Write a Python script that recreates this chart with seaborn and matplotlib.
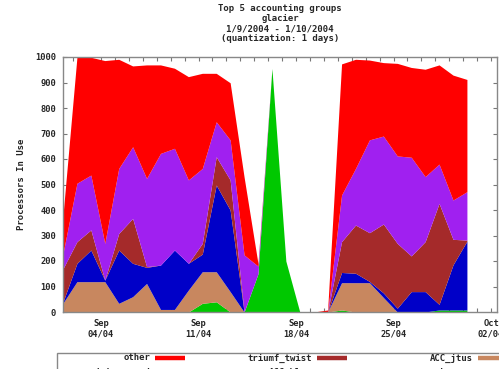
import numpy as np
import pandas as pd
import matplotlib
matplotlib.use("Agg")
import matplotlib.pyplot as plt
import matplotlib.dates as mdates
from matplotlib.lines import Line2D
from matplotlib.patches import Rectangle
import seaborn as sns

# Daily samples, 1/9/2004 - 1/10/2004
days = pd.date_range("2004-09-01 06:30", periods=30, freq="D")

# Processors in use per accounting group (one value per day)
ubc_cwn = [0, 0, 0, 0, 0, 0, 0, 0, 0, 0, 34, 40, 0, 0, 150,
           955, 200, 0, 0, 0, 8, 0, 0, 0, 0, 0, 0, 8, 8, 8]
acc_jtus = [35, 119, 119, 119, 34, 60, 112, 10, 10, 86, 124, 118, 80, 0, 0,
            0, 0, 0, 0, 0, 107, 115, 115, 57, 0, 0, 0, 0, 0, 0]
acc_hluo = [5, 72, 124, 6, 209, 131, 63, 174, 233, 105, 69, 340, 320, 0, 0,
            0, 0, 0, 0, 0, 40, 37, 5, 18, 15, 80, 80, 22, 177, 270]
triumf_twist = [130, 85, 79, 0, 65, 176, 3, 0, 0, 0, 42, 111, 118, 0, 0,
                0, 0, 0, 0, 0, 121, 189, 191, 270, 254, 140, 196, 396, 100, 4]
babar_prod = [60, 229, 215, 144, 255, 281, 346, 438, 399, 327, 294, 137, 157, 224, 30,
              0, 0, 0, 0, 0, 183, 222, 364, 345, 343, 387, 255, 154, 154, 190]
other = [150, 494, 462, 717, 428, 317, 445, 347, 314, 405, 373, 190, 224, 306, 10,
         0, 0, 0, 0, 8, 514, 428, 313, 288, 363, 352, 421, 389, 490, 440]

# stacking order, bottom to top
stack_names = ["ubc_cwn", "ACC_jtus", "ACC_hluo", "triumf_twist", "babar_prod", "other"]
stack_values = [ubc_cwn, acc_jtus, acc_hluo, triumf_twist, babar_prod, other]
stack_colors = ["#00c800", "#c8875f", "#0000c8", "#a52a2a", "#a020f0", "#ff0000"]

# legend order (row by row, three columns)
legend_names = ["other", "triumf_twist", "ACC_jtus", "babar_prod", "ACC_hluo", "ubc_cwn"]

# weekly labelled ticks
week_ticks = pd.to_datetime(["2004-09-04", "2004-09-11", "2004-09-18",
                             "2004-09-25", "2004-10-02"])

sns.set_theme(style="white")
plt.rcParams["font.family"] = ["DejaVu Sans Mono"]
plt.rcParams["font.weight"] = "bold"

W, H = 499, 369
fig = plt.figure(figsize=(W / 100, H / 100), dpi=100)
ax = fig.add_axes([63 / W, 1 - 312 / H, 434 / W, 255 / H])

palette = sns.color_palette(stack_colors)
ax.stackplot(days.to_pydatetime(), *stack_values, colors=palette,
             linewidth=0, antialiased=True)

ax.set_ylim(0, 1000)
ax.set_xlim(pd.Timestamp("2004-09-01 06:30"), pd.Timestamp("2004-10-02 10:20"))
ax.set_yticks(np.arange(0, 1001, 100))
ax.tick_params(axis="y", labelsize=6.3, direction="in", length=3, width=0.8,
               color="#777777", left=True, right=True, pad=5)
ax.set_xticks(week_ticks.to_pydatetime())
ax.xaxis.set_major_formatter(mdates.DateFormatter("%b\n%d/%y"))
ax.xaxis.set_minor_locator(mdates.DayLocator())
ax.tick_params(axis="x", which="both", labelsize=6.3, direction="in", length=3,
               width=0.8, color="#777777", bottom=True, top=True, pad=5)
for lbl in ax.get_xticklabels():
    lbl.set_linespacing(1.2)
ax.set_axisbelow(True)
for sp in ax.spines.values():
    sp.set_color("#888888")
    sp.set_linewidth(1.0)
    sp.set_visible(True)

fig.text(280 / W, 1 - 4 / H,
         "Top 5 accounting groups\nglacier\n1/9/2004 - 1/10/2004\n(quantization: 1 days)",
         ha="center", va="top", fontsize=6.5, linespacing=1.15)
fig.text(22 / W, 1 - 184.5 / H, "Processors In Use", rotation=90,
         ha="center", va="center", fontsize=6.5)

# legend box below the plot, text first then a colour bar
fig.patches.append(Rectangle((57 / W, -0.2), 1.0, 1 - 353 / H + 0.2,
                             transform=fig.transFigure, fill=False,
                             edgecolor="#888888", linewidth=1.0))
color_of = dict(zip(stack_names, stack_colors))
col_text_end = [150, 312, 473]
row_y = [358, 372]
for i, name in enumerate(legend_names):
    r, c = divmod(i, 3)
    y = 1 - row_y[r] / H
    fig.text(col_text_end[c] / W, y, name, ha="right", va="center", fontsize=6.5)
    x0 = (col_text_end[c] + 5) / W
    fig.add_artist(Line2D([x0, x0 + 30 / W], [y, y], transform=fig.transFigure,
                          color=color_of[name], linewidth=3.2, solid_capstyle="butt"))

fig.savefig("out.png", dpi=100)
